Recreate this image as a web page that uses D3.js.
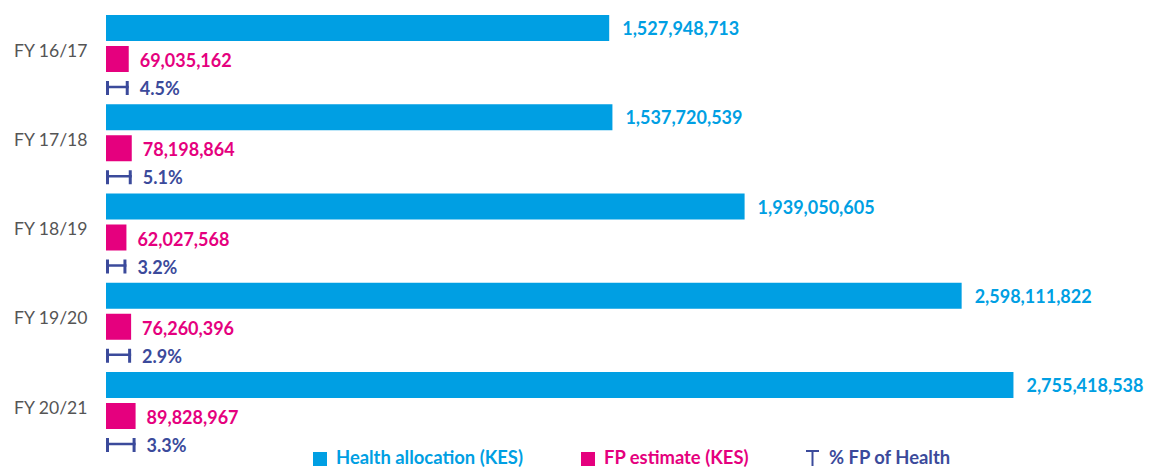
<!DOCTYPE html>
<html>
<head>
<meta charset="utf-8">
<script src="https://cdn.jsdelivr.net/npm/d3@7"></script>
<style>
  body { margin: 0; background: #fff; }
  svg { display: block; font-family: Lato, 'Open Sans', sans-serif; }
</style>
</head>
<body>
<div id="chart"></div>
<script>
const years = ['FY 16/17', 'FY 17/18', 'FY 18/19', 'FY 19/20', 'FY 20/21'];
const healthAllocation = [1527948713, 1537720539, 1939050605, 2598111822, 2755418538];
const fpEstimate = [69035162, 78198864, 62027568, 76260396, 89828967];
const fpShare = ['4.5%', '5.1%', '3.2%', '2.9%', '3.3%'];
const legendLabels = ['Health allocation (KES)', 'FP estimate (KES)', '% FP of Health'];

const width = 1151, height = 469;
const healthColor = '#009fe3';
const fpColor = '#e5007e';
const pctColor = '#3b4a9b';

const svg = d3.select('#chart').append('svg')
  .attr('width', width)
  .attr('height', height);

// Scales
const x = d3.scaleLinear().domain([0, 3e9]).range([106, 1094]);
const y = d3.scaleBand().domain(years).range([15, 15 + 5 * 89.25]);

const rows = years.map((yr, i) => ({
  year: yr,
  health: healthAllocation[i],
  fp: fpEstimate[i],
  pct: fpShare[i]
}));

const row = svg.selectAll('.row')
  .data(rows)
  .enter()
  .append('g')
  .attr('class', 'row')
  .attr('transform', d => `translate(0,${y(d.year)})`);

// Category labels
row.append('text')
  .attr('x', 14)
  .attr('y', 35)
  .attr('dominant-baseline', 'central')
  .attr('fill', '#555')
  .style('font-size', '17.6px')
  .text(d => d.year);

// Health bars
row.append('rect')
  .attr('x', x(0))
  .attr('y', 0)
  .attr('width', d => x(d.health) - x(0))
  .attr('height', 26)
  .attr('fill', healthColor);

row.append('text')
  .attr('x', d => x(d.health) + 13)
  .attr('y', 13)
  .attr('dominant-baseline', 'central')
  .attr('fill', healthColor)
  .style('font-size', '18px')
  .style('font-weight', 700)
  .text(d => d3.format(',')(d.health));

// FP bars
row.append('rect')
  .attr('x', x(0))
  .attr('y', 31)
  .attr('width', d => x(d.fp) - x(0))
  .attr('height', 26)
  .attr('fill', fpColor);

row.append('text')
  .attr('x', d => x(d.fp) + 11)
  .attr('y', 45)
  .attr('dominant-baseline', 'central')
  .attr('fill', fpColor)
  .style('font-size', '18px')
  .style('font-weight', 700)
  .text(d => d3.format(',')(d.fp));

// % markers
const mk = row.append('g').attr('fill', 'none').attr('stroke', pctColor);
mk.append('line')
  .attr('x1', x(0) + 1.5).attr('x2', x(0) + 1.5)
  .attr('y1', 66).attr('y2', 80)
  .attr('stroke-width', 3);
mk.append('line')
  .attr('x1', d => x(d.fp) - 1.5).attr('x2', d => x(d.fp) - 1.5)
  .attr('y1', 66).attr('y2', 80)
  .attr('stroke-width', 3);
mk.append('line')
  .attr('x1', x(0)).attr('x2', d => x(d.fp))
  .attr('y1', 72).attr('y2', 72)
  .attr('stroke-width', 2.5);

row.append('text')
  .attr('x', d => x(d.fp) + 11)
  .attr('y', 73)
  .attr('dominant-baseline', 'central')
  .attr('fill', pctColor)
  .style('font-size', '18px')
  .style('font-weight', 700)
  .text(d => d.pct);

// Legend
const legend = svg.append('g');
const lx = [313, 581, 806];
const lcol = [healthColor, fpColor, pctColor];

[0, 1].forEach(i => {
  legend.append('rect')
    .attr('x', lx[i]).attr('y', 452)
    .attr('width', 14).attr('height', 14)
    .attr('fill', lcol[i]);
});
legend.append('line')
  .attr('x1', lx[2]).attr('x2', lx[2] + 13)
  .attr('y1', 451).attr('y2', 451)
  .attr('stroke', pctColor).attr('stroke-width', 2);
legend.append('line')
  .attr('x1', lx[2] + 6.5).attr('x2', lx[2] + 6.5)
  .attr('y1', 451).attr('y2', 466)
  .attr('stroke', pctColor).attr('stroke-width', 2);

const ltx = [336, 604, 829];
legendLabels.forEach((t, i) => {
  legend.append('text')
    .attr('x', ltx[i]).attr('y', 464)
    .attr('fill', lcol[i])
    .style('font-size', '18.4px')
    .style('font-weight', 700)
    .text(t);
});
</script>
</body>
</html>
